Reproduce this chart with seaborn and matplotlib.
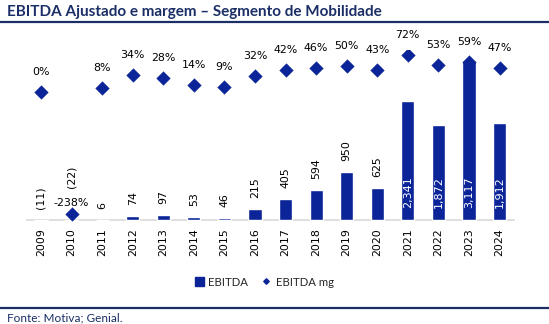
import numpy as np
import pandas as pd
import matplotlib
matplotlib.use("Agg")
import matplotlib.pyplot as plt
from matplotlib.lines import Line2D
from matplotlib.patches import Patch
import seaborn as sns

# Segment data (R$ mn) and EBITDA margin (%)
years = ["2009", "2010", "2011", "2012", "2013", "2014", "2015", "2016",
         "2017", "2018", "2019", "2020", "2021", "2022", "2023", "2024"]
ebitda = [-11, -22, 6, 74, 97, 53, 46, 215, 405, 594, 950, 625, 2341, 1872, 3117, 1912]
margin = [0, -238, 8, 34, 28, 14, 9, 32, 42, 46, 50, 43, 72, 53, 59, 47]

NAVY = "#0b2599"
DARK = "#1b2f66"

sns.set_theme(style="white")
plt.rcParams["font.family"] = ["DejaVu Sans"]

W, H = 549, 324
fig = plt.figure(figsize=(W / 100, H / 100), dpi=100)

# axes placement in pixels
left_px, right_px, top_px, bot_px = 25.7, 514.8, 50, 224
ax = fig.add_axes([left_px / W, 1 - bot_px / H, (right_px - left_px) / W, (bot_px - top_px) / H])

df = pd.DataFrame({"ano": years, "ebitda": ebitda, "margem": margin})
sns.barplot(data=df, x="ano", y="ebitda", ax=ax, color=NAVY, width=0.43,
            saturation=1, zorder=3)
ax.set_ylim(-78.6, 3340)
ax.set_xlim(-0.5, len(years) - 0.5)
ax.axhline(0, color="#d9d9d9", lw=1.2, zorder=2)
for s in ax.spines.values():
    s.set_visible(False)
ax.set_yticks([])
ax.set_xlabel("")
ax.set_ylabel("")
ax.tick_params(axis="x", length=0, pad=3, labelsize=7.9, labelrotation=90, colors="black")

def fmt(v):
    s = f"{abs(v):,}"
    return f"({s})" if v < 0 else s

# bar value labels
bar_offsets = {1: 32}
for i, v in enumerate(ebitda):
    if v >= 1000:
        ax.annotate(fmt(v), (i, 0), xytext=(0, 12), textcoords="offset pixels",
                    rotation=90, ha="center", va="bottom", fontsize=8, color="white", zorder=5)
    else:
        off = bar_offsets.get(i, 11)
        ax.annotate(fmt(v), (i, max(v, 0)), xytext=(0, off), textcoords="offset pixels",
                    rotation=90, ha="center", va="bottom", fontsize=7.9, color="black", zorder=5)

# margin on secondary axis
ax2 = ax.twinx()
sns.scatterplot(x=np.arange(len(years)), y=margin, ax=ax2, marker="D", s=48,
                color=NAVY, edgecolor=NAVY, linewidth=0.3, zorder=4, legend=False)
ax2.set_ylim(-256.8, 81.7)
ax2.set_xlim(-0.5, len(years) - 0.5)
ax2.set_yticks([])
for s in ax2.spines.values():
    s.set_visible(False)
margin_offsets = {1: 11}
for i, m in enumerate(margin):
    ax2.annotate(f"{m}%", (i, m), xytext=(0, margin_offsets.get(i, 20)), textcoords="offset pixels",
                 ha="center", va="center", fontsize=7.9, color="black")

# legend
handles = [Patch(facecolor=NAVY, edgecolor=NAVY, label="EBITDA"),
           Line2D([], [], marker="D", linestyle="none", color=NAVY, markersize=2.8, label="EBITDA mg")]
fig.legend(handles=handles, loc="center", bbox_to_anchor=(264 / W, 1 - 282 / H), ncol=2,
           frameon=False, prop={"family": "Lato", "size": 8.2}, handlelength=0.8, handleheight=0.8,
           handletextpad=0.4, columnspacing=1.2)

# title, rules and source
fig.text(7 / W, 1 - 12 / H, "EBITDA Ajustado e margem – Segmento de Mobilidade", ha="left", va="center",
         fontsize=11, fontweight="bold", family="Lato", color=DARK)
fig.add_artist(Line2D([0, 1], [1 - 21.5 / H, 1 - 21.5 / H], color=DARK, lw=1.6))
fig.add_artist(Line2D([0, 1], [1 - 308 / H, 1 - 308 / H], color=DARK, lw=1.6))
fig.text(7 / W, 1 - 318 / H, "Fonte: Motiva; Genial.", ha="left", va="center",
         fontsize=8.5, family="Lato", color=DARK)

fig.savefig("out.png", dpi=100)
